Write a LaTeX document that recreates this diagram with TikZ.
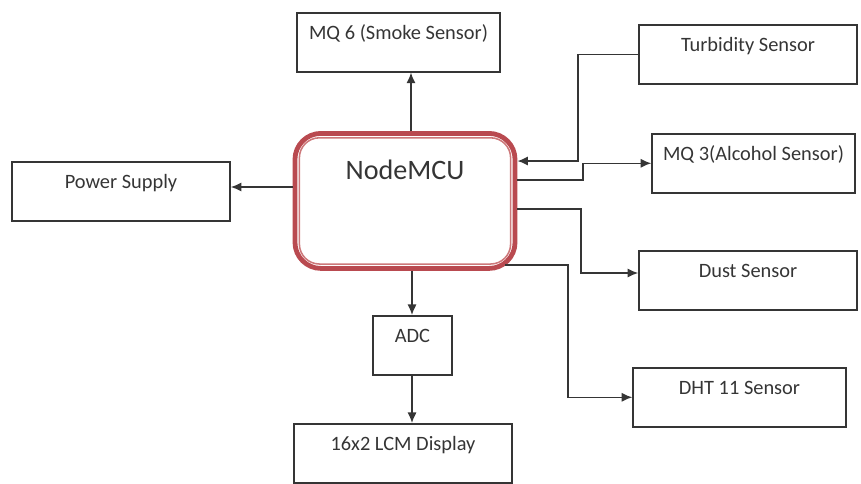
\documentclass[tikz,border=0pt]{standalone}
\usepackage{fontspec}
\setmainfont{Carlito}
\usetikzlibrary{positioning, arrows.meta}
\definecolor{ink}{HTML}{353535}
\definecolor{mcured}{RGB}{185,74,80}
\definecolor{mcupink}{RGB}{205,120,122}

\begin{document}
\begin{tikzpicture}[x=0.025cm, y=-0.025cm, font=\fontsize{14.5}{16}\selectfont, text=ink,
    box/.style={draw=ink, line width=1.1pt, minimum width=#1, minimum height=1.475cm,
      text height=0.675cm, text depth=0.8cm, inner sep=0pt, anchor=north},
    arr/.style={draw=ink, line width=1pt, -{Latex[length=7.5pt,width=6.5pt]}}]
  \useasboundingbox (0,0) rectangle (861,483);

  \node[draw=mcured, line width=3.4pt, rounded corners=0.65cm, minimum width=5.5cm,
    minimum height=3.375cm, inner sep=0pt, text height=1.15cm, text depth=2.225cm,
    anchor=north, font=\fontsize{20}{24}\selectfont] (mcu) at (405,131) {NodeMCU};
  \draw[mcupink, line width=1.1pt, rounded corners=0.5cm]
    ([xshift=0.17cm,yshift=0.17cm]mcu.south west) rectangle ([xshift=-0.17cm,yshift=-0.17cm]mcu.north east);

  \node[box=5.075cm] (smoke) at (398.5,12) {MQ 6 (Smoke Sensor)};
  \node[box=5.45cm] (turb) at (748,24) {Turbidity Sensor};
  \node[box=5.075cm] (alc) at (753.5,133) {MQ 3(Alcohol Sensor)};
  \node[box=5.45cm] (dust) at (748,250) {Dust Sensor};
  \node[box=5.325cm] (dht) at (739.5,367) {DHT 11 Sensor};
  \node[box=5.45cm] (power) at (121,161) {Power Supply};
  \node[box=1.975cm] (adc) at (412.5,315) {ADC};
  \node[box=5.45cm] (lcm) at (403,423) {16x2 LCM Display};

  \coordinate (up) at (411,0);
  \coordinate (tb) at (578,161);
  \coordinate (al) at (583,180);
  \coordinate (du) at (581,209);
  \coordinate (dui) at (581,273);
  \coordinate (dhs) at (505,265);
  \coordinate (dh) at (568,265);
  \coordinate (pw) at (0,187);
  \coordinate (dn) at (412,0);

  \draw[arr] (up |- mcu.north) -- (up |- smoke.south);
  \draw[arr] (turb.west) -| (tb) -- (tb -| mcu.east);
  \draw[arr] (al -| mcu.east) -- (al) |- (alc.west);
  \draw[arr] (du -| mcu.east) -- (du) -- (dui) -- (dui -| dust.west);
  \draw[arr] (dhs) -- (dh) |- (dht.west);
  \draw[arr] (pw -| mcu.west) -- (pw -| power.east);
  \draw[arr] (dn |- mcu.south) -- (dn |- adc.north);
  \draw[arr] (dn |- adc.south) -- (dn |- lcm.north);
\end{tikzpicture}
\end{document}
